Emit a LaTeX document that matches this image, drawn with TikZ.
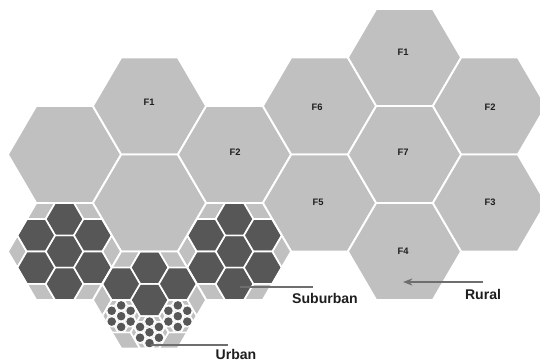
\documentclass[tikz,border=0pt]{standalone}
\usepackage{fontspec}
\setmainfont{Liberation Sans}
\usetikzlibrary{arrows.meta}
\definecolor{cellgray}{HTML}{C0C0C0}
\definecolor{celldark}{HTML}{575757}
\definecolor{linegray}{HTML}{6E6E6E}
\definecolor{textdark}{HTML}{1E1E1E}
% flat-topped hexagon round the origin, #1 = scale
\newcommand{\hexcell}[1]{(56.67*#1,0) -- (28.33*#1,48.5*#1) -- (-28.33*#1,48.5*#1) -- (-56.67*#1,0) -- (-28.33*#1,-48.5*#1) -- (28.33*#1,-48.5*#1) -- cycle}

\begin{document}
\begin{tikzpicture}[x=0.03cm, y=-0.03cm,
  bigcell/.style={fill=cellgray, draw=white, line width=1.6pt},
  smallcell/.style={fill=cellgray, draw=white, line width=1.4pt},
  darkcell/.style={fill=celldark, draw=white, line width=1.4pt},
  tinycell/.style={fill=cellgray, draw=white, line width=0.9pt},
  tinydark/.style={fill=celldark, draw=white, line width=0.9pt},
  cellname/.style={font=\fontsize{8}{9}\selectfont\bfseries, text=textdark},
  areaname/.style={font=\fontsize{12}{14}\selectfont\bfseries, text=textdark},
  pointer/.style={draw=linegray, line width=1.5pt}]
  \useasboundingbox (0,0) rectangle (540,362);

  % rural cells
  \foreach \x/\y in {64.5/154.5, 149.5/106, 149.5/203, 234.5/154.5, 319.5/106, 319.5/203,
                     404.5/57.5, 404.5/154.5, 404.5/251.5, 489.5/106, 489.5/203}
    \path[bigcell, shift={(\x,\y)}] \hexcell{1};

  % suburban cells
  \foreach \cx/\cy in {64.5/251.5, 234.5/251.5} {
    \begin{scope}[shift={(\cx,\cy)}]
      \clip \hexcell{1};
      \foreach \i in {-2,...,2}
        \foreach \j in {-3,...,3}
          \path[smallcell, shift={({28.33*\i},{32.33*\j+16.17*mod(abs(\i),2)})}] \hexcell{0.3333};
      \foreach \dx/\dy in {0/0, 0/-32.33, 0/32.33, 28.33/-16.17, 28.33/16.17, -28.33/-16.17, -28.33/16.17}
        \path[darkcell, shift={(\dx,\dy)}] \hexcell{0.3333};
    \end{scope}
    \path[draw=white, line width=1.6pt, shift={(\cx,\cy)}] \hexcell{1};
  }

  % urban cell
  \begin{scope}[shift={(149.5,300)}]
    \clip \hexcell{1};
    \foreach \i in {-2,...,2}
      \foreach \j in {-3,...,3}
        \path[smallcell, shift={({28.33*\i},{32.33*\j+16.17*mod(abs(\i),2)})}] \hexcell{0.3333};
    \foreach \dx/\dy in {0/0, 0/-32.33, 28.33/-16.17, -28.33/-16.17}
      \path[darkcell, shift={(\dx,\dy)}] \hexcell{0.3333};
    \foreach \ux/\uy in {-28.33/16.17, 28.33/16.17, 0/32.33} {
      \begin{scope}[shift={(\ux,\uy)}]
        \clip \hexcell{0.3333};
        \fill[cellgray] \hexcell{0.3333};
        \foreach \i in {-2,...,2}
          \foreach \j in {-3,...,3}
            \path[tinycell, shift={({9.444*\i},{10.778*\j+5.389*mod(abs(\i),2)})}] \hexcell{0.1111};
        \foreach \dx/\dy in {0/0, 0/-10.778, 0/10.778, 9.444/-5.389, 9.444/5.389, -9.444/-5.389, -9.444/5.389} {
          \fill[white] (\dx,\dy) circle (5.4);
          \fill[celldark] (\dx,\dy) circle (4.3);
        }
      \end{scope}
      \path[draw=white, line width=1.4pt, shift={(\ux,\uy)}] \hexcell{0.3333};
    }
  \end{scope}
  \path[draw=white, line width=1.6pt, shift={(149.5,300)}] \hexcell{1};

  % cell names
  \foreach \n/\t/\x/\y in {lfone/F1/149/102, lftwo/F2/235/152, fsix/F6/317/107, fseven/F7/403/152,
                           rfone/F1/403/52, rftwo/F2/490/107, ffive/F5/318/202, fthree/F3/490/202, ffour/F4/403/251}
    \node[cellname] (\n) at (\x,\y) {\t};

  % area names
  \node[areaname] (suburban) at (325,298) {Suburban};
  \node[areaname] (urban) at (236,354) {Urban};
  \node[areaname] (rural) at (483,294) {Rural};

  \coordinate (subcell) at (240,287);
  \coordinate (subend) at (313,287);
  \coordinate (urbcell) at (151,345);
  \coordinate (urbend) at (228,345);
  \coordinate (rurstart) at (483,282);
  \coordinate (rurcell) at (403,282);

  \draw[pointer] (subcell) -- (subend);
  \draw[pointer] (urbcell) -- (urbend);
  \draw[pointer, -{Stealth[length=8pt, width=6pt]}] (rurstart) -- (rurcell);
\end{tikzpicture}
\end{document}
